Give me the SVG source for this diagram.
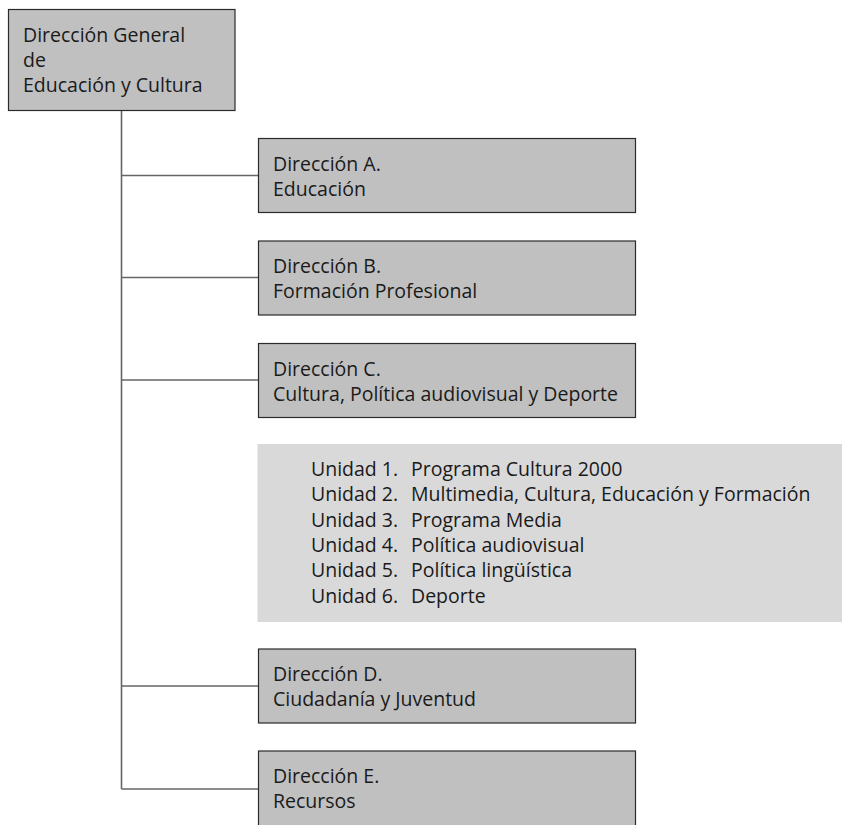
<svg xmlns="http://www.w3.org/2000/svg" width="842" height="825" viewBox="0 0 842 825">
  <style>
    .box { fill: #c0c0c0; stroke: #2b2b2b; stroke-width: 1.2; }
    .panel { fill: #d9d9d9; }
    .lbl { font-family: "Open Sans", "Noto Sans", "DejaVu Sans", sans-serif; font-size: 19.5px; fill: #1a1a1a; }
    .wire { stroke: #666666; stroke-width: 1.6; fill: none; }
  </style>
  <rect width="842" height="825" fill="#ffffff"/>

  <!-- connectors: trunk from the directorate-general down to each directorate -->
  <g id="connectors">
    <line class="wire" x1="121.5" y1="111" x2="121.5" y2="789"/>
    <line class="wire" x1="121.5" y1="175.5" x2="258" y2="175.5"/>
    <line class="wire" x1="121.5" y1="277.5" x2="258" y2="277.5"/>
    <line class="wire" x1="121.5" y1="380" x2="258" y2="380"/>
    <line class="wire" x1="121.5" y1="686" x2="258" y2="686"/>
    <line class="wire" x1="121.5" y1="789" x2="258" y2="789"/>
  </g>

  <g id="dg">
    <rect class="box" x="8.5" y="9.5" width="226.5" height="101"/>
    <text class="lbl" x="23" y="42">Dirección General</text>
    <text class="lbl" x="23" y="67">de</text>
    <text class="lbl" x="23" y="92">Educación y Cultura</text>
  </g>

  <g id="dir-a">
    <rect class="box" x="258.5" y="138.5" width="377" height="74"/>
    <text class="lbl" x="273" y="170.5">Dirección A.</text>
    <text class="lbl" x="273" y="195.5">Educación</text>
  </g>

  <g id="dir-b">
    <rect class="box" x="258.5" y="241" width="377" height="74"/>
    <text class="lbl" x="273" y="273">Dirección B.</text>
    <text class="lbl" x="273" y="298">Formación Profesional</text>
  </g>

  <g id="dir-c">
    <rect class="box" x="258.5" y="343.5" width="377" height="74"/>
    <text class="lbl" x="273" y="375.5">Dirección C.</text>
    <text class="lbl" x="273" y="400.5">Cultura, Política audiovisual y Deporte</text>
  </g>

  <g id="units-c">
    <rect class="panel" x="257.5" y="444" width="584.5" height="178"/>
    <text class="lbl" x="311" y="476">Unidad 1.</text>
    <text class="lbl" x="411" y="476">Programa Cultura 2000</text>
    <text class="lbl" x="311" y="501.3">Unidad 2.</text>
    <text class="lbl" x="411" y="501.3">Multimedia, Cultura, Educación y Formación</text>
    <text class="lbl" x="311" y="526.6">Unidad 3.</text>
    <text class="lbl" x="411" y="526.6">Programa Media</text>
    <text class="lbl" x="311" y="551.9">Unidad 4.</text>
    <text class="lbl" x="411" y="551.9">Política audiovisual</text>
    <text class="lbl" x="311" y="577.2">Unidad 5.</text>
    <text class="lbl" x="411" y="577.2">Política lingüística</text>
    <text class="lbl" x="311" y="602.5">Unidad 6.</text>
    <text class="lbl" x="411" y="602.5">Deporte</text>
  </g>

  <g id="dir-d">
    <rect class="box" x="258.5" y="649" width="377" height="74"/>
    <text class="lbl" x="273" y="681">Dirección D.</text>
    <text class="lbl" x="273" y="706">Ciudadanía y Juventud</text>
  </g>

  <g id="dir-e">
    <rect class="box" x="258.5" y="751" width="377" height="80"/>
    <text class="lbl" x="273" y="783">Dirección E.</text>
    <text class="lbl" x="273" y="808">Recursos</text>
  </g>
</svg>
